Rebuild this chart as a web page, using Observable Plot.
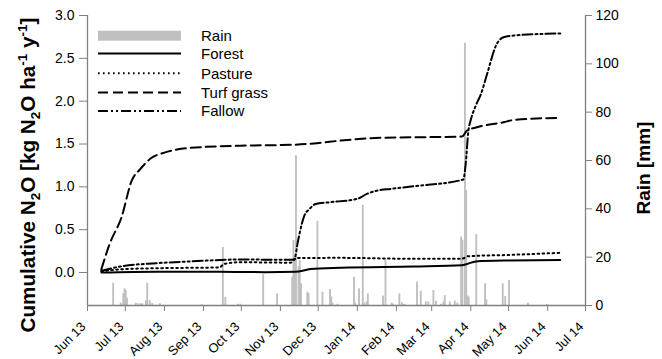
<!DOCTYPE html>
<html><head><meta charset="utf-8">
<script src="https://cdn.jsdelivr.net/npm/d3@7"></script>
<script src="https://cdn.jsdelivr.net/npm/@observablehq/plot@0.6"></script>
<style>
body{margin:0;background:#fff;}
#chart{width:662px;height:359px;}
</style></head><body><div id="chart"></div>
<script>
// ---- data ----
const rainDates = ["2013-06-21","2013-06-27","2013-06-29","2013-06-30","2013-07-01","2013-07-02","2013-07-09","2013-07-11","2013-07-13","2013-07-14","2013-07-17","2013-07-18","2013-07-20","2013-07-22","2013-07-28","2013-08-30","2013-09-16","2013-09-18","2013-09-28","2013-09-30","2013-10-18","2013-10-29","2013-11-10","2013-11-11","2013-11-12","2013-11-13","2013-11-15","2013-11-16","2013-11-17","2013-11-22","2013-11-23","2013-11-30","2013-12-04","2013-12-10","2013-12-11","2013-12-12","2013-12-16","2013-12-29","2013-12-30","2014-01-02","2014-01-05","2014-01-06","2014-01-08","2014-01-09","2014-01-21","2014-01-23","2014-01-28","2014-01-29","2014-02-03","2014-02-05","2014-02-07","2014-02-17","2014-02-20","2014-02-24","2014-02-26","2014-03-02","2014-03-04","2014-03-08","2014-03-10","2014-03-11","2014-03-15","2014-03-19","2014-03-21","2014-03-24","2014-03-25","2014-03-27","2014-03-28","2014-03-29","2014-03-30","2014-04-05","2014-04-12","2014-04-13","2014-04-26","2014-04-28","2014-05-01","2014-05-16","2014-05-31"];
const rainMm = [9.2,1,4.8,6.9,6.2,3,1,0.8,0.7,0.7,2,9.2,2,0.8,0.7,0.3,24,3.4,0.5,0.5,12.8,4.8,11.7,26.9,20,62,16,18.6,9,5.5,5,34.8,5.5,6.6,3.5,1,0.5,11.7,1,6.9,41.4,1,1.5,4.8,3.9,18.9,1,0.5,4.8,1.2,0.5,9.7,5.9,1.5,1.5,6.2,1.8,0.5,1.5,4.1,1.5,1.8,1,28.3,27,108.5,47.6,4,3.5,29.4,9,2.3,9,3.7,10.3,1,0.4];

const forestDates = ["2013-06-12","2013-07-26","2013-09-14","2013-10-20","2013-11-13","2013-11-25","2013-12-19","2014-02-15","2014-03-25","2014-03-29","2014-04-05","2014-04-27","2014-06-11"];
const forestValues = [0.0,0.01,0.01,0.004,0.008,0.04,0.055,0.07,0.085,0.10,0.13,0.14,0.145];

const pastureDates = ["2013-06-12","2013-06-30","2013-07-26","2013-09-14","2013-09-17","2013-09-30","2013-11-09","2013-11-14","2013-12-19","2014-02-15","2014-03-25","2014-03-30","2014-05-01","2014-06-11"];
const pastureValues = [0.015,0.04,0.05,0.06,0.1,0.12,0.115,0.17,0.171,0.16,0.162,0.19,0.205,0.23];

const turfDates = ["2013-06-12","2013-06-19","2013-06-28","2013-07-06","2013-07-13","2013-07-21","2013-08-01","2013-08-11","2013-08-22","2013-09-30","2013-11-09","2013-11-30","2013-12-19","2014-01-19","2014-03-25","2014-03-29","2014-04-06","2014-04-27","2014-05-05","2014-06-11"];
const turfValues = [0.04,0.35,0.645,1.07,1.21,1.33,1.40,1.436,1.455,1.48,1.49,1.51,1.54,1.572,1.587,1.657,1.696,1.754,1.78,1.806];

const fallowDates = ["2013-06-12","2013-06-27","2013-07-26","2013-08-22","2013-09-30","2013-11-09","2013-11-12","2013-11-15","2013-11-18","2013-11-20","2013-11-24","2013-11-29","2013-12-10","2014-01-01","2014-01-09","2014-01-17","2014-01-28","2014-02-15","2014-03-26","2014-03-28","2014-03-30","2014-04-01","2014-04-05","2014-04-09","2014-04-14","2014-04-21","2014-04-27","2014-05-05","2014-06-11"];
const fallowValues = [0.02,0.07,0.109,0.13,0.152,0.148,0.155,0.37,0.57,0.665,0.74,0.80,0.82,0.86,0.92,0.957,0.977,1.007,1.085,1.27,1.64,1.78,1.95,2.08,2.32,2.65,2.747,2.766,2.79];

const leftTicks = [0, 0.5, 1.0, 1.5, 2.0, 2.5, 3.0];
const rainTicks = [0, 20, 40, 60, 80, 100, 120];
const seriesNames = ["Forest", "Pasture", "Turf grass", "Fallow"];
const legendNames = ["Rain", "Forest", "Pasture", "Turf grass", "Fallow"];

// ---- scales ----
const parse = d3.utcParse("%Y-%m-%d");
const X0 = parse("2013-06-01"), X1 = parse("2014-07-01");
const Y_MIN = -0.385, Y_MAX = 3.0, RAIN_MAX = 120;
const toLeft = r => Y_MIN + r * (Y_MAX - Y_MIN) / RAIN_MAX;
const fromLeft = v => Math.round((v - Y_MIN) * RAIN_MAX / (Y_MAX - Y_MIN));

const rain = rainDates.map((d, i) => ({date: parse(d), mm: rainMm[i]}));
const mk = (dates, vals) => dates.map((d, i) => ({date: parse(d), v: vals[i]}));
const series = {
  "Forest": mk(forestDates, forestValues),
  "Pasture": mk(pastureDates, pastureValues),
  "Turf grass": mk(turfDates, turfValues),
  "Fallow": mk(fallowDates, fallowValues)
};
const dashes = {"Forest": null, "Pasture": "1.6,3.4", "Turf grass": "10,5", "Fallow": "10,3,2,3,2,3"};
const AX = "#808080";
const FONT = "'Liberation Sans', Arial, sans-serif";
const monthTicks = d3.utcMonth.range(X0, d3.utcDay.offset(X1, 1));

const plot = Plot.plot({
  width: 662, height: 359,
  marginLeft: 87, marginRight: 77, marginTop: 15, marginBottom: 54,
  style: {fontFamily: FONT, fontSize: "13px", color: "#000", background: "#fff"},
  x: {type: "utc", domain: [X0, X1]},
  y: {domain: [Y_MIN, Y_MAX]},
  marks: [
    Plot.rect(rain, {x1: d => d.date, x2: d => d3.utcHour.offset(d.date, 36), y1: Y_MIN, y2: d => toLeft(d.mm), fill: "#c0c0c0"}),
    ...seriesNames.map(n => Plot.line(series[n], {x: "date", y: "v", stroke: "#000", strokeWidth: 2, strokeDasharray: dashes[n], curve: "monotone-x"})),
    Plot.ruleX([X0], {y1: Y_MIN, y2: Y_MAX, stroke: AX, strokeWidth: 1.3}),
    Plot.ruleX([X1], {y1: Y_MIN, y2: Y_MAX, stroke: AX, strokeWidth: 1.3}),
    Plot.ruleY([Y_MIN], {x1: X0, x2: X1, stroke: AX, strokeWidth: 1.3}),
    Plot.axisY(leftTicks, {anchor: "left", tickSize: 8, tickPadding: 5, tickFormat: d3.format(".1f"), fontSize: 14, stroke: AX, fill: "#000", label: null}),
    Plot.axisY(rainTicks.map(toLeft), {anchor: "right", tickSize: 6, tickPadding: 4, tickFormat: v => String(fromLeft(v)), fontSize: 14, stroke: AX, fill: "#000", label: null}),
    Plot.axisX(monthTicks, {anchor: "bottom", tickSize: 6, tickFormat: () => "", stroke: AX, label: null}),
    Plot.text(monthTicks, {x: d => d, frameAnchor: "bottom", text: d3.utcFormat("%b %y"), rotate: -45, textAnchor: "end", lineAnchor: "middle", dx: -4, dy: 19, fontSize: 13, fill: "#000"})
  ]
});
document.getElementById("chart").appendChild(plot);

// ---- axis titles & legend (annotation) ----
const svg = d3.select(plot);
const yt = svg.append("text")
  .attr("transform", "translate(28,175) rotate(-90)")
  .attr("text-anchor", "middle").attr("dy", "0.35em")
  .attr("font-family", FONT).attr("font-size", 20.7).attr("font-weight", "bold").attr("fill", "#000");
yt.append("tspan").text("Cumulative N");
yt.append("tspan").attr("font-size", 13.5).attr("dy", 5).text("2");
yt.append("tspan").attr("dy", -5).text("O [kg N");
yt.append("tspan").attr("font-size", 13.5).attr("dy", 5).text("2");
yt.append("tspan").attr("dy", -5).text("O ha");
yt.append("tspan").attr("font-size", 13.5).attr("dy", -8).text("-1");
yt.append("tspan").attr("dy", 8).text(" y");
yt.append("tspan").attr("font-size", 13.5).attr("dy", -8).text("-1");
yt.append("tspan").attr("dy", 8).text("]");

svg.append("text")
  .attr("transform", "translate(643,168) rotate(-90)")
  .attr("text-anchor", "middle").attr("dy", "0.35em")
  .attr("font-family", FONT).attr("font-size", 19).attr("font-weight", "bold").attr("fill", "#000")
  .text("Rain [mm]");

const lg = svg.append("g").attr("text-anchor", "start");
const legY = [35.7, 53.5, 73.3, 92.5, 111];
legendNames.forEach((name, i) => {
  const y = legY[i];
  if (name === "Rain") {
    lg.append("rect").attr("x", 98).attr("y", y - 5).attr("width", 83).attr("height", 10).attr("fill", "#c0c0c0");
  } else {
    lg.append("line").attr("x1", 98).attr("x2", 181).attr("y1", y).attr("y2", y)
      .attr("stroke", "#000").attr("stroke-width", 2)
      .attr("stroke-dasharray", dashes[name]);
  }
  lg.append("text").attr("x", 201).attr("y", y).attr("dy", "0.36em").attr("text-anchor", "start")
    .attr("font-family", FONT).attr("font-size", 15).attr("fill", "#000").text(name);
});
</script>
</body></html>
